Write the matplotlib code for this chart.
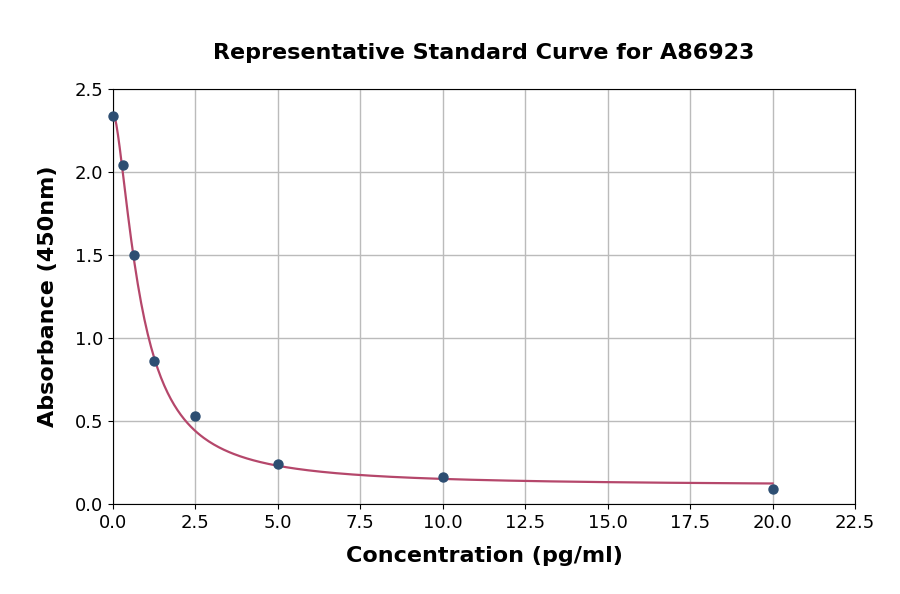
import numpy as np
import matplotlib
matplotlib.use('Agg')
import matplotlib.pyplot as plt

# standard points
conc = [0, 0.3125, 0.625, 1.25, 2.5, 5, 10, 20]
absorb = [2.34, 2.04, 1.50, 0.86, 0.53, 0.24, 0.16, 0.09]

# 4PL fit params
fit_a, fit_b, fit_c, fit_d = 2.36, 1.6, 0.83, 0.11

def four_pl(x):
    return fit_d + (fit_a - fit_d) / (1 + (x / fit_c) ** fit_b)

fig = plt.figure(figsize=(9, 5.94), dpi=100)
ax = fig.add_axes([0.1256, 0.1515, 0.8244, 0.6985])

xs = np.linspace(0, max(conc), 400)
ax.plot(xs, four_pl(xs), color='#b5476b', lw=1.6, zorder=2)
ax.scatter(conc, absorb, color='#2d4e72', s=42, zorder=3, clip_on=False)

ax.set_xlim(0, 22.5)
ax.set_ylim(0, 2.5)
ax.set_xticks(np.arange(0, 22.6, 2.5))
ax.set_yticks(np.arange(0, 2.51, 0.5))
ax.tick_params(labelsize=13)
ax.grid(True, color='#bbbbbb', lw=1)
ax.set_axisbelow(True)
ax.set_xlabel('Concentration (pg/ml)', fontsize=16, fontweight='bold', labelpad=10)
ax.set_ylabel('Absorbance (450nm)', fontsize=16, fontweight='bold', labelpad=12)
ax.set_title('Representative Standard Curve for A86923', fontsize=16, fontweight='bold', pad=22)

fig.savefig('out.png', dpi=100)
